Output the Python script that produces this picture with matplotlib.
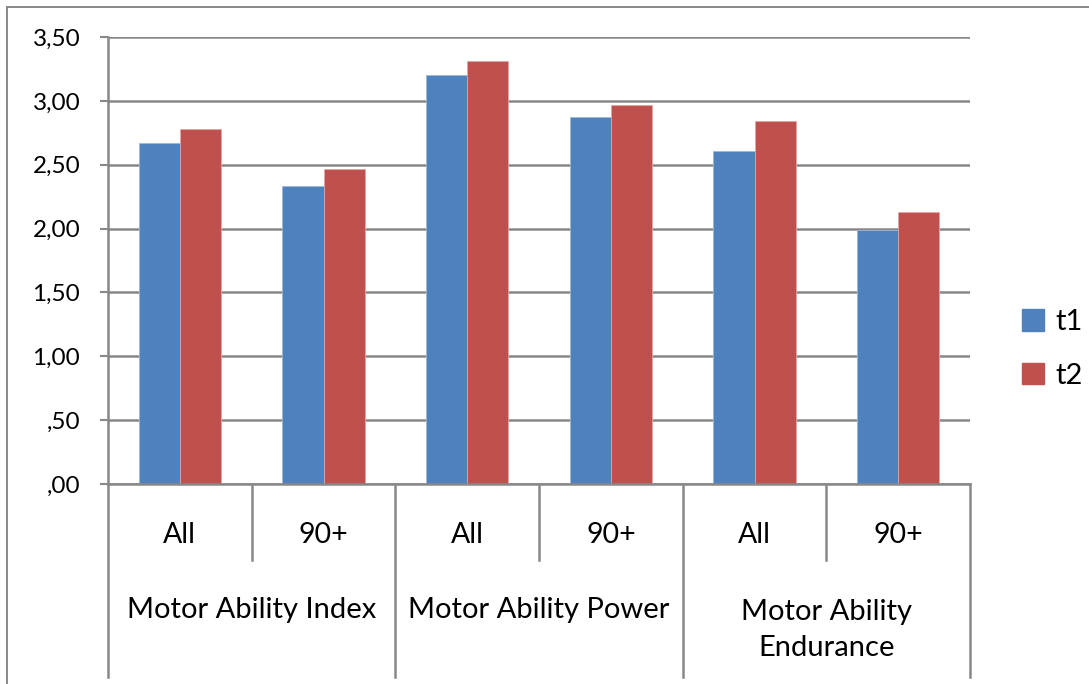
import matplotlib
matplotlib.use("Agg")
import matplotlib.pyplot as plt
from matplotlib.patches import Patch
from matplotlib.lines import Line2D
import numpy as np

plt.rcParams['font.family'] = ['Lato', 'DejaVu Sans']

groups = ['Motor Ability Index', 'Motor Ability Power', 'Motor Ability\nEndurance']
subgroups = ['All', '90+']
t1 = [2.67, 2.33, 3.20, 2.87, 2.61, 1.99]
t2 = [2.78, 2.47, 3.31, 2.97, 2.84, 2.13]
yticks = [0, 0.5, 1.0, 1.5, 2.0, 2.5, 3.0, 3.5]

blue = '#4F81BD'
red = '#C0504D'
grey = '#888888'

W, H = 1089, 684
fig = plt.figure(figsize=(W / 100, H / 100), dpi=100)

# plot area in pixel units
left, right, top, bottom, cat_bottom = 108, 970, 37, 484, 677
ax = fig.add_axes([left / W, 1 - bottom / H, (right - left) / W, (bottom - top) / H])

x = np.arange(len(t1))
bw = 1 / 3.5
ax.bar(x - bw / 2, t1, bw, color=blue, edgecolor='#9DB6DA', linewidth=0.6)
ax.bar(x + bw / 2, t2, bw, color=red, edgecolor='#E0A6A4', linewidth=0.6)

ax.set_xlim(-0.5, len(t1) - 0.5)
ax.set_ylim(0, 3.5)
ax.set_yticks(yticks)
ax.set_yticklabels([f"{v:.2f}".replace('.', ',').lstrip('0') if v < 1 else f"{v:.2f}".replace('.', ',')
                    for v in yticks], fontsize=17.5)
ax.tick_params(axis='y', length=6, width=1.5, color=grey, pad=14)
ax.set_xticks([])
ax.yaxis.grid(True, color=grey, linewidth=1.8)
ax.set_axisbelow(True)
for s in ['top', 'right']:
    ax.spines[s].set_visible(False)
for s in ['left', 'bottom']:
    ax.spines[s].set_color(grey)
    ax.spines[s].set_linewidth(1.8)

# two-level category axis below the bars
cax = fig.add_axes([left / W, 1 - cat_bottom / H, (right - left) / W, (cat_bottom - bottom) / H])
cax.set_xlim(-0.5, len(t1) - 0.5)
cax.set_ylim(cat_bottom, bottom)
cax.axis('off')
for xs in [-0.5, 1.5, 3.5, 5.5]:
    cax.plot([xs, xs], [bottom, cat_bottom], color=grey, lw=1.8, clip_on=False)
for xs in [0.5, 2.5, 4.5]:
    cax.plot([xs, xs], [bottom, 560], color=grey, lw=1.8, clip_on=False)
for i in x:
    cax.text(i, 535, subgroups[i % 2], ha='center', va='center', fontsize=20.5)
for g, name in enumerate(groups):
    cy = 610 if '\n' not in name else 630
    cax.text(2 * g + 0.5, cy, name, ha='center', va='center', fontsize=21, linespacing=1.45)

# chart border
fig.add_artist(Line2D([7 / W, 7 / W], [0, 1 - 7 / H], color=grey, lw=1.4))
fig.add_artist(Line2D([7 / W, 1], [1 - 7 / H, 1 - 7 / H], color=grey, lw=1.4))

handles = [Patch(color=blue, label='t1'), Patch(color=red, label='t2')]
fig.legend(handles=handles, loc='center left', bbox_to_anchor=(996 / W, 1 - 349 / H),
           frameon=False, fontsize=21, handlelength=0.75, handleheight=0.75,
           handletextpad=0.4, labelspacing=0.95)

fig.savefig('out.png', dpi=100)
